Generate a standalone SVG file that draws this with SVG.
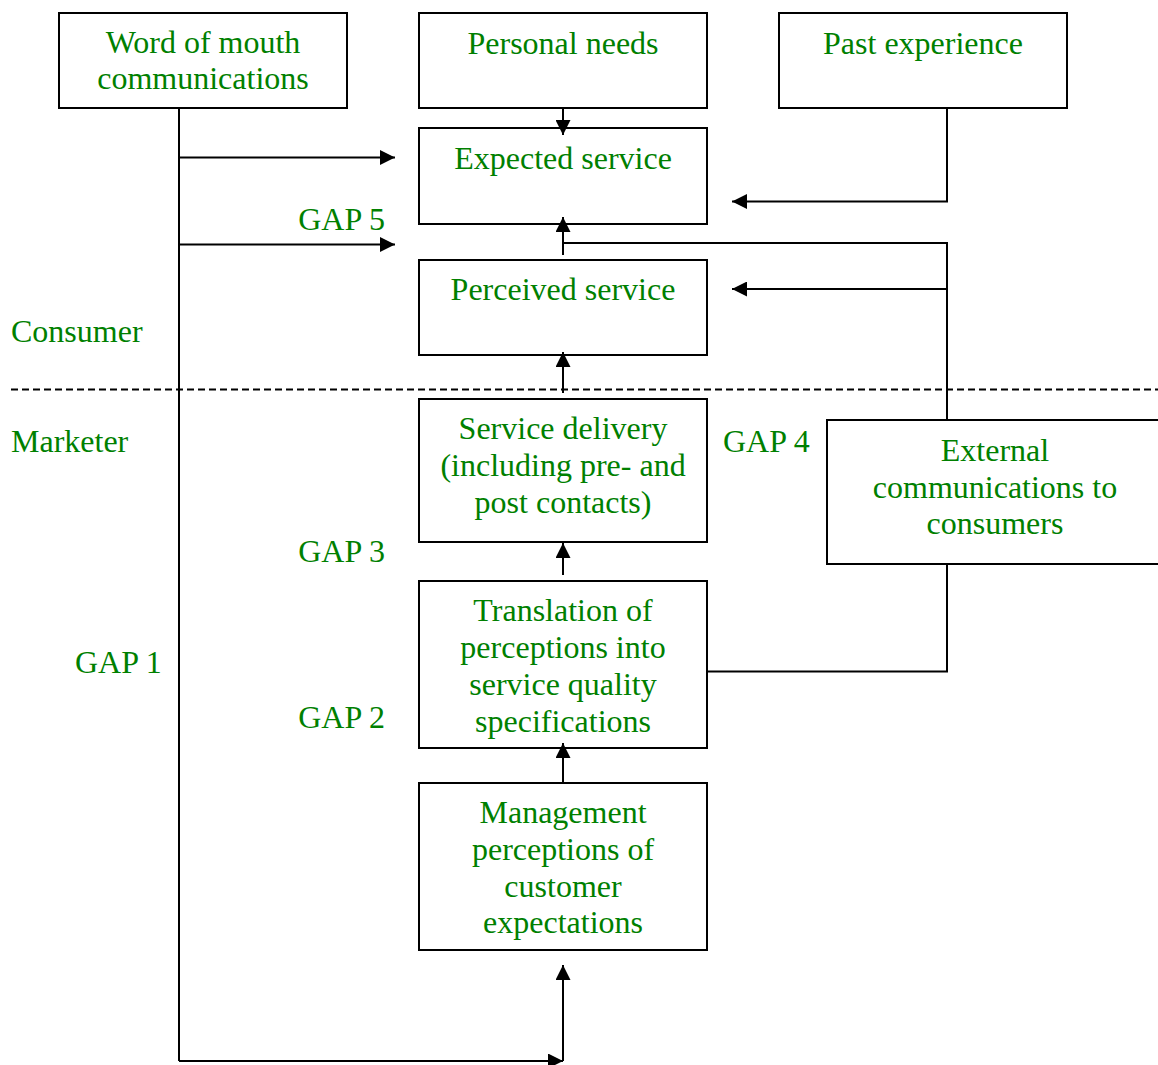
<svg xmlns="http://www.w3.org/2000/svg" width="1158" height="1065" viewBox="0 0 1158 1065">
<style>
.box{fill:#fff;stroke:#000;stroke-width:2}
.t{font-family:"Liberation Serif","Times New Roman",serif;font-size:32px;fill:#008000}
.c{text-anchor:middle}
.e{text-anchor:end}
.ln{fill:none;stroke:#000;stroke-width:2}
.dash{fill:none;stroke:#000;stroke-width:2;stroke-dasharray:7 4}
</style>
<defs>
<marker id="ah" viewBox="0 0 15 15" refX="15" refY="7.5" markerWidth="15" markerHeight="15" markerUnits="userSpaceOnUse" orient="auto">
<path d="M0,0 L15,7.5 L0,15 Z" fill="#000"/>
</marker>
</defs>
<rect width="1158" height="1065" fill="#fff"/>
<g id="divider">
<line class="dash" x1="11" y1="389.5" x2="1158" y2="389.5"/>
</g>
<g id="word-of-mouth">
<rect class="box" x="59" y="13" width="288" height="95"/>
<text class="t c" x="203" y="53">Word of mouth</text>
<text class="t c" x="203" y="89">communications</text>
</g>
<g id="personal-needs">
<rect class="box" x="419" y="13" width="288" height="95"/>
<text class="t c" x="563" y="54">Personal needs</text>
</g>
<g id="past-experience">
<rect class="box" x="779" y="13" width="288" height="95"/>
<text class="t c" x="923" y="54">Past experience</text>
</g>
<g id="expected-service">
<rect class="box" x="419" y="128" width="288" height="96"/>
<text class="t c" x="563" y="169">Expected service</text>
</g>
<g id="perceived-service">
<rect class="box" x="419" y="260" width="288" height="95"/>
<text class="t c" x="563" y="300">Perceived service</text>
</g>
<g id="service-delivery">
<rect class="box" x="419" y="399" width="288" height="143"/>
<text class="t c" x="563" y="439">Service delivery</text>
<text class="t c" x="563" y="476">(including pre- and</text>
<text class="t c" x="563" y="513">post contacts)</text>
</g>
<g id="external-communications">
<rect class="box" x="827" y="420" width="340" height="144"/>
<text class="t c" x="995" y="461">External</text>
<text class="t c" x="995" y="498">communications to</text>
<text class="t c" x="995" y="534">consumers</text>
</g>
<g id="translation">
<rect class="box" x="419" y="581" width="288" height="167"/>
<text class="t c" x="563" y="621">Translation of</text>
<text class="t c" x="563" y="658">perceptions into</text>
<text class="t c" x="563" y="695">service quality</text>
<text class="t c" x="563" y="732">specifications</text>
</g>
<g id="management">
<rect class="box" x="419" y="783" width="288" height="167"/>
<text class="t c" x="563" y="823">Management</text>
<text class="t c" x="563" y="860">perceptions of</text>
<text class="t c" x="563" y="897">customer</text>
<text class="t c" x="563" y="933">expectations</text>
</g>
<g id="connectors">
<path class="ln" d="M179,108 V1061"/>
<path class="ln" d="M179,157.5 H395" marker-end="url(#ah)"/>
<path class="ln" d="M179,244.5 H395" marker-end="url(#ah)"/>
<path class="ln" d="M563,107 V135" marker-end="url(#ah)"/>
<path class="ln" d="M947,107 V201.5 H732" marker-end="url(#ah)"/>
<path class="ln" d="M563,255 V217" marker-end="url(#ah)"/>
<path class="ln" d="M563,243 H947 V420"/>
<path class="ln" d="M947,289 H732" marker-end="url(#ah)"/>
<path class="ln" d="M563,393 V352" marker-end="url(#ah)"/>
<path class="ln" d="M563,575 V543" marker-end="url(#ah)"/>
<path class="ln" d="M563,783 V743" marker-end="url(#ah)"/>
<path class="ln" d="M947,564 V671.5 H707"/>
<path class="ln" d="M179,1061 H563" marker-end="url(#ah)"/>
<path class="ln" d="M563,1061 V965" marker-end="url(#ah)"/>
</g>
<g id="labels">
<text class="t" x="11" y="342">Consumer</text>
<text class="t" x="11" y="452">Marketer</text>
<text class="t e" x="385" y="230">GAP 5</text>
<text class="t" x="723" y="452">GAP 4</text>
<text class="t e" x="385" y="562">GAP 3</text>
<text class="t e" x="385" y="728">GAP 2</text>
<text class="t" x="75" y="673">GAP 1</text>
</g>
</svg>
